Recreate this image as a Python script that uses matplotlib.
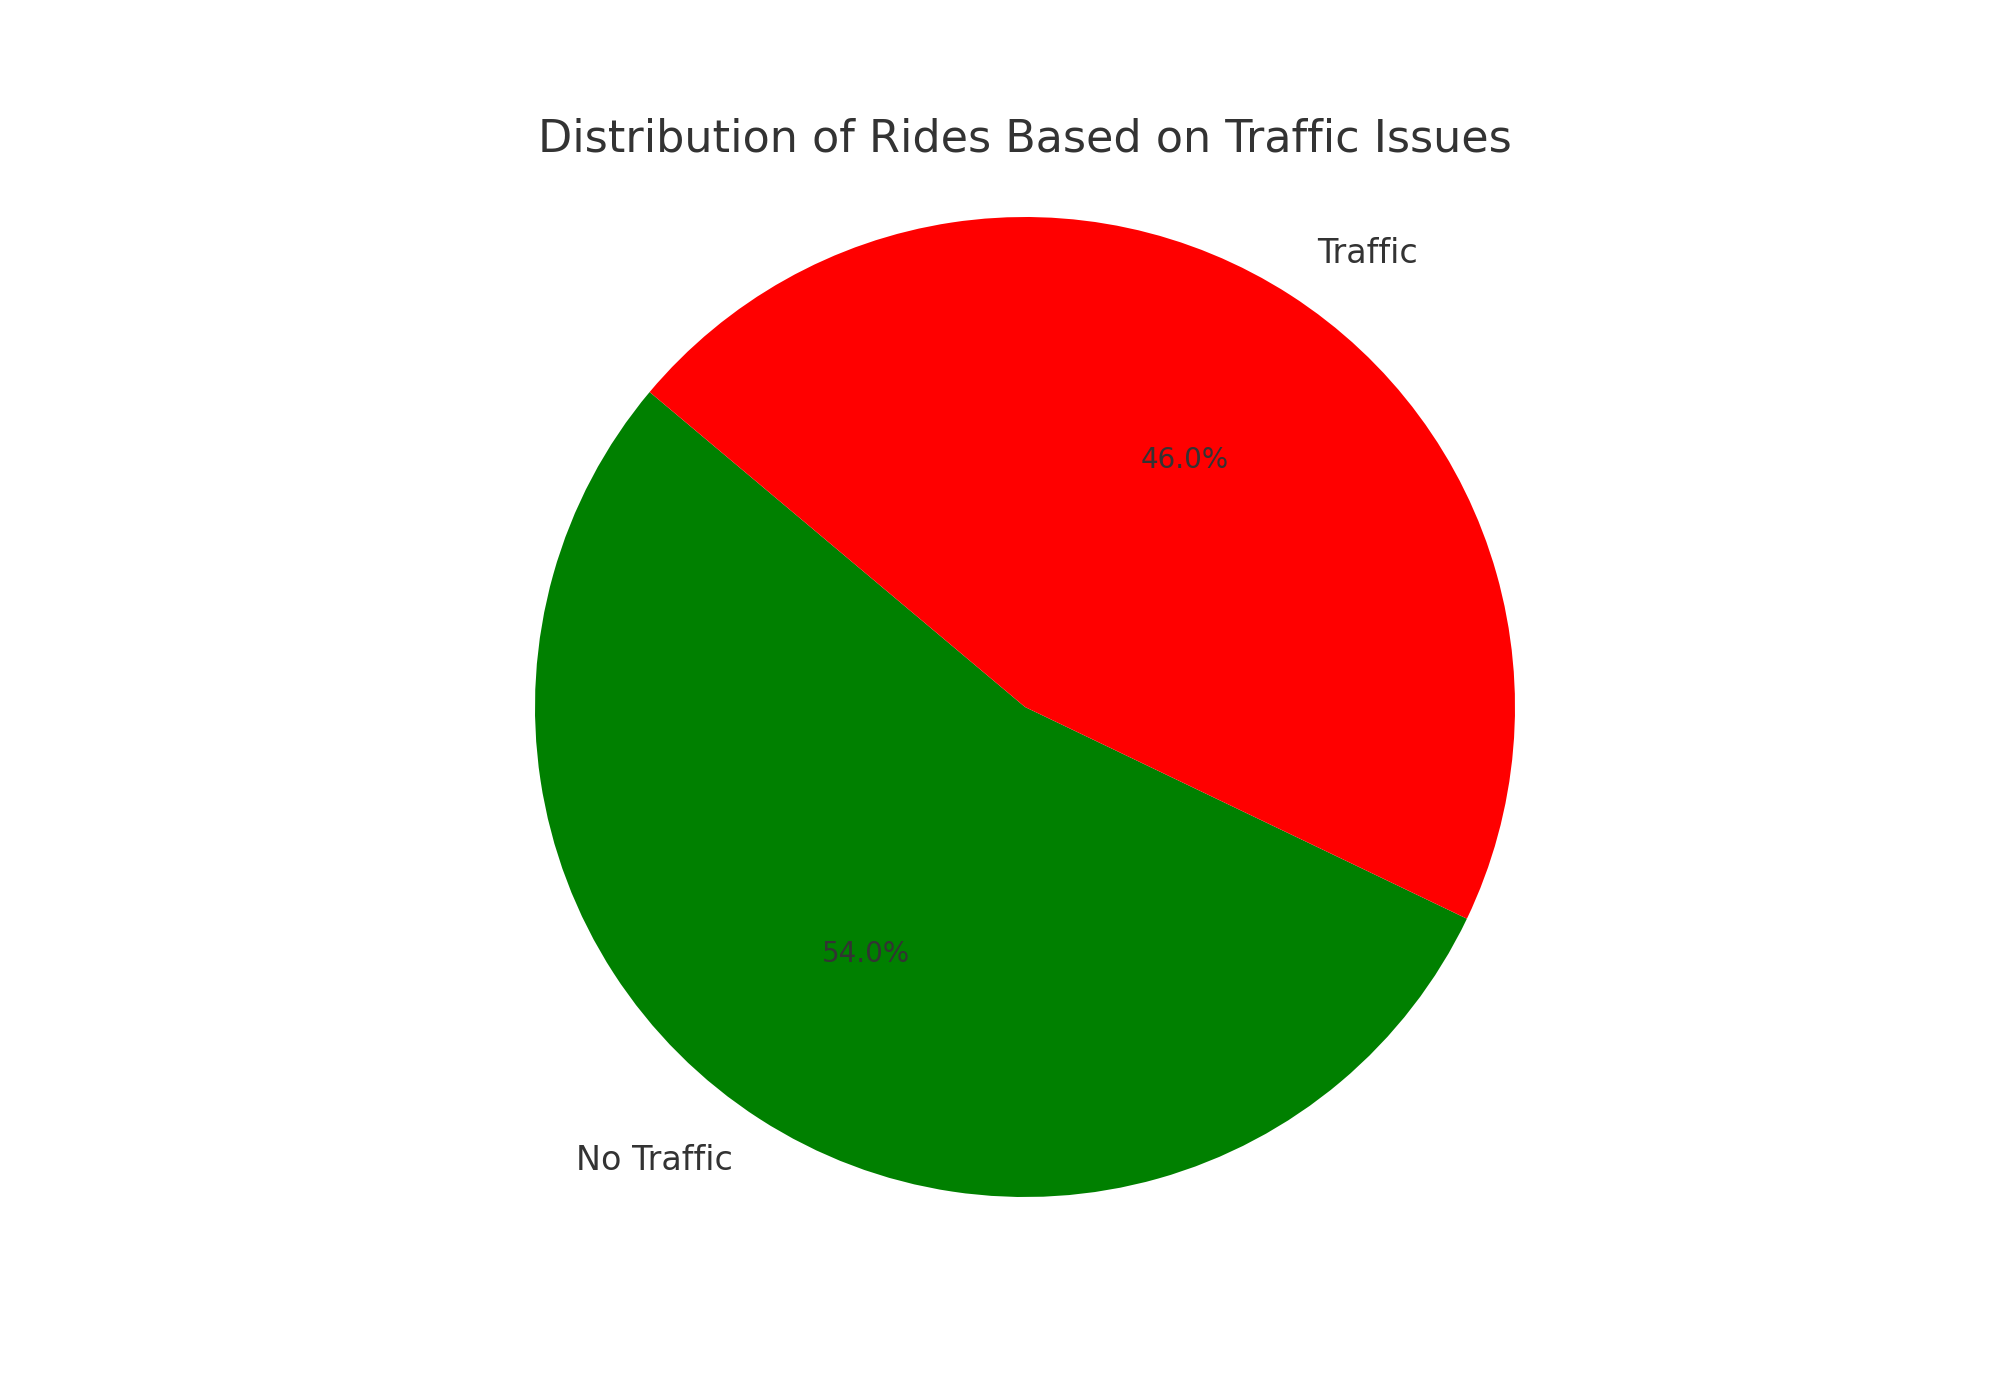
import matplotlib
matplotlib.use("Agg")
import matplotlib.pyplot as plt
import seaborn as sns

sns.set_theme(style="whitegrid")
plt.rcParams['font.family'] = ['DejaVu Sans']

labels = ['No Traffic', 'Traffic']
values = [54.0, 46.0]
colors = ['green', 'red']

fig, ax = plt.subplots(figsize=(10, 7), dpi=200)
wedges, texts, autotexts = ax.pie(values, labels=labels, colors=colors, autopct='%1.1f%%',
                                  startangle=140, radius=0.883,
                                  wedgeprops={'linewidth': 0},
                                  textprops={'fontsize': 12, 'color': '#333333'})
for t in autotexts:
    t.set_fontsize(10)
ax.set_title('Distribution of Rides Based on Traffic Issues', fontsize=16, color='#333333')
ax.axis('equal')
fig.savefig('out.png')
